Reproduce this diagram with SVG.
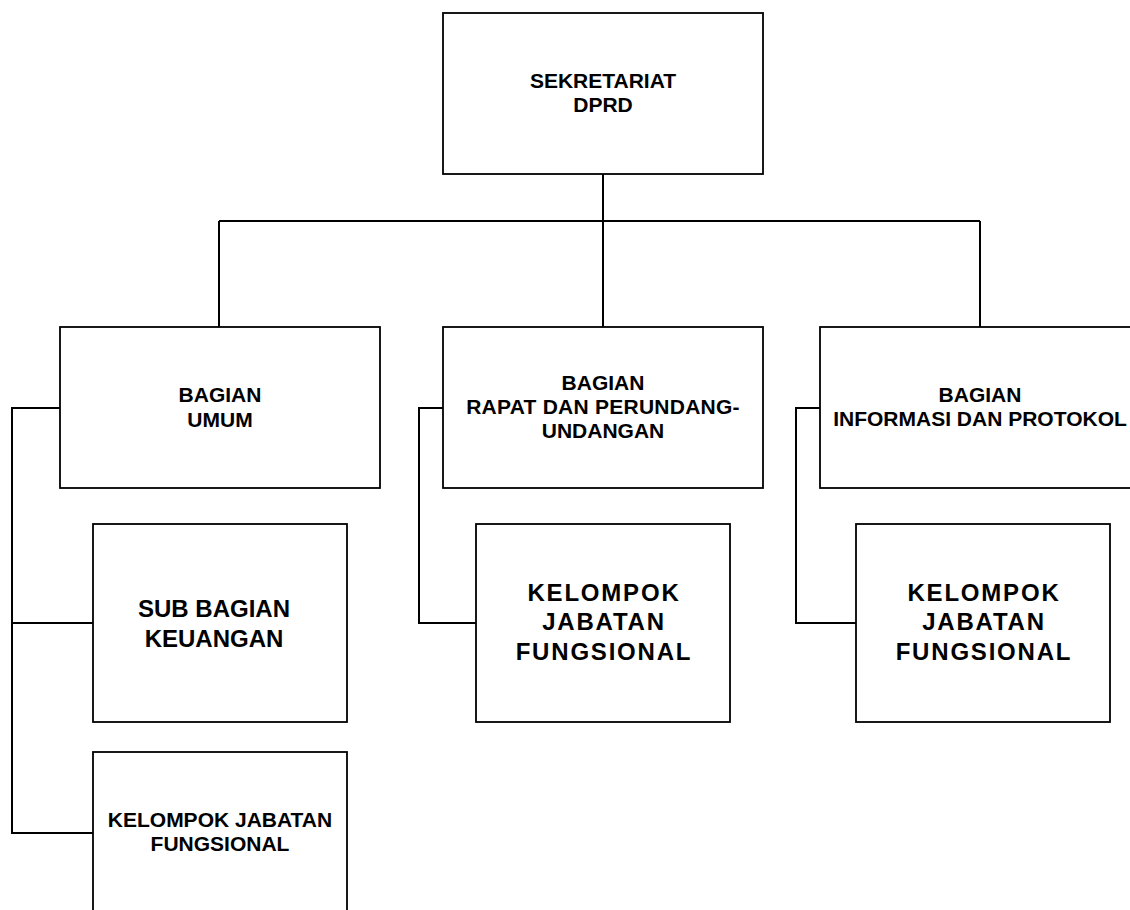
<svg xmlns="http://www.w3.org/2000/svg" width="1130" height="910" viewBox="0 0 1130 910">
<style>
.box{fill:#fff;stroke:#000;stroke-width:1.8}
.ln{fill:none;stroke:#000;stroke-width:2}
text{font-family:"Liberation Sans",Arial,sans-serif;font-weight:bold;fill:#000;text-anchor:middle}
.t21{font-size:21px}
.t24{font-size:24px}
.ts{font-size:24px;letter-spacing:1.8px}
</style>
<rect width="1130" height="910" fill="#fff"/>
<g id="connectors">
<path class="ln" d="M603,174V221M219,221H980M219,221V327M603,221V327M980,221V327"/>
<path class="ln" d="M60,408H12V833H93M12,623H93"/>
<path class="ln" d="M443,408H419V623H476"/>
<path class="ln" d="M820,408H796V623H856"/>
</g>
<g id="sekretariat">
<rect class="box" x="443" y="13" width="320" height="161"/>
<text class="t21" x="603" y="88">SEKRETARIAT</text>
<text class="t21" x="603" y="112">DPRD</text>
</g>
<g id="bagian-umum">
<rect class="box" x="60" y="327" width="320" height="161"/>
<text class="t21" x="220" y="402">BAGIAN</text>
<text class="t21" x="220" y="427">UMUM</text>
</g>
<g id="bagian-rapat">
<rect class="box" x="443" y="327" width="320" height="161"/>
<text class="t21" x="603" y="390">BAGIAN</text>
<text class="t21" x="603" y="414" style="letter-spacing:0.25px">RAPAT DAN PERUNDANG-</text>
<text class="t21" x="603" y="438">UNDANGAN</text>
</g>
<g id="bagian-informasi">
<rect class="box" x="820" y="327" width="320" height="161"/>
<text class="t21" x="980" y="402">BAGIAN</text>
<text class="t21" x="980" y="426">INFORMASI DAN PROTOKOL</text>
</g>
<g id="sub-bagian-keuangan">
<rect class="box" x="93" y="524" width="254" height="198"/>
<text class="t24" x="214" y="617">SUB BAGIAN</text>
<text class="t24" x="214" y="647">KEUANGAN</text>
</g>
<g id="kelompok-umum">
<rect class="box" x="93" y="752" width="254" height="200"/>
<text class="t21" x="220" y="827">KELOMPOK JABATAN</text>
<text class="t21" x="220" y="851">FUNGSIONAL</text>
</g>
<g id="kelompok-rapat">
<rect class="box" x="476" y="524" width="254" height="198"/>
<text class="ts" x="604" y="601">KELOMPOK</text>
<text class="ts" x="604" y="630">JABATAN</text>
<text class="ts" x="604" y="660">FUNGSIONAL</text>
</g>
<g id="kelompok-informasi">
<rect class="box" x="856" y="524" width="254" height="198"/>
<text class="ts" x="984" y="601">KELOMPOK</text>
<text class="ts" x="984" y="630">JABATAN</text>
<text class="ts" x="984" y="660">FUNGSIONAL</text>
</g>
</svg>
